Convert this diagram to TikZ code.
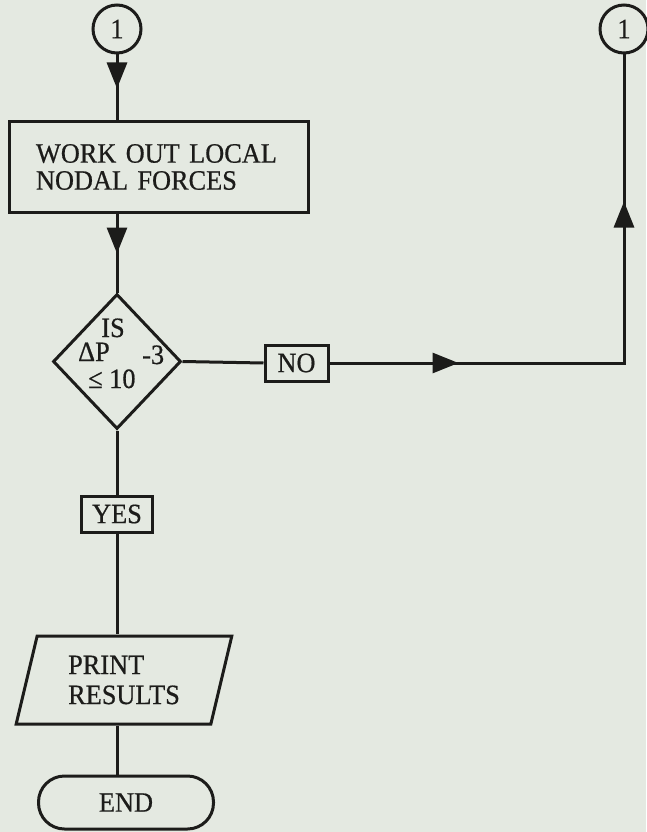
\documentclass[tikz,border=0pt]{standalone}
\usepackage{fontspec}
\setmainfont{Liberation Serif}[FakeStretch=0.94, FakeBold=0.6]
\usetikzlibrary{shapes.geometric,decorations.markings,arrows.meta}
\definecolor{paper}{RGB}{228,233,225}
\definecolor{ink}{RGB}{28,28,26}
\tikzset{
  txt/.style={text=ink, font=\fontsize{28}{27}\selectfont},
  outline/.style={draw=ink, line width=3pt},
  conn/.style={draw=ink, line width=3pt},
  connector/.style={outline, circle, minimum size=48pt, inner sep=0pt, txt},
  procbox/.style={outline, rectangle, minimum width=299pt, minimum height=90pt,
    text width=245pt, inner xsep=27pt, inner ysep=0pt, align=left, txt},
  tag/.style={outline, rectangle, inner sep=0pt, txt},
  decision/.style={outline, diamond, inner sep=0pt, minimum width=128pt, minimum height=135pt},
  iobox/.style={outline, trapezium, trapezium stretches=true,
    trapezium left angle=74.5, trapezium right angle=105.5,
    minimum width=216pt, minimum height=88pt, inner sep=0pt, align=left,
    txt, font=\fontsize{28}{30}\selectfont},
  terminal/.style={outline, rectangle, rounded corners=26pt, minimum width=175pt,
    minimum height=53pt, inner sep=0pt, txt},
  lbl/.style={inner sep=0pt, txt},
  tipat/.style={postaction={decorate}, decoration={markings,
    mark=at position #1 with {\arrow{Triangle[width=20pt,length=26pt]}}}},
}
\begin{document}
\begin{tikzpicture}[x=1pt, y=-1pt]
  \useasboundingbox[fill=paper] (0,0) rectangle (646,832);

  % connectors, process box and decision
  \node[connector] (L) at (117,29) {1};
  \node[connector] (R) at (624,29) {1};
  \node[procbox] (work) at (158.5,167) {WORK OUT LOCAL\\NODAL FORCES};
  \node[decision] (D) at (117,361.5) {};
  \node[lbl, anchor=base] (is) at (113,337) {IS};
  \node[lbl, anchor=base west] (dp) at (78,361) {ΔP};
  \node[lbl, anchor=base west] (ex) at (142,364) {-3};
  \node[lbl, anchor=base west] (le) at (88,388) {≤ 10};

  % branch labels
  \node[tag, minimum width=63pt, minimum height=36pt] (no) at (296.5,363) {NO};
  \node[tag, minimum width=71pt, minimum height=36pt] (yes) at (117,514) {YES};

  % output and terminator
  \node[iobox] (prn) at (124,680) {PRINT\\RESULTS};
  \node[terminal] (end) at (126,802.5) {END};

  % flow lines
  \draw[conn, tipat=34pt] (L) -- (L |- work.north);
  \draw[conn, tipat=40pt] (L |- work.south) -- (D.north);
  \draw[conn] (D.east) -- (no.west);
  \draw[conn, postaction={decorate}, decoration={markings,
      mark=at position 129pt with {\arrow{Triangle[width=20pt,length=26pt]}},
      mark=at position 456pt with {\arrow{Triangle[width=20pt,length=26pt]}}}]
    (no.east) -- (R |- no.east) -- (R.south);
  \draw[conn] (D.south) -- (yes.north);
  \draw[conn] (yes.south) -- (yes.south |- prn.north);
  \draw[conn] (yes.south |- prn.south) -- (yes.south |- end.north);
\end{tikzpicture}
\end{document}
